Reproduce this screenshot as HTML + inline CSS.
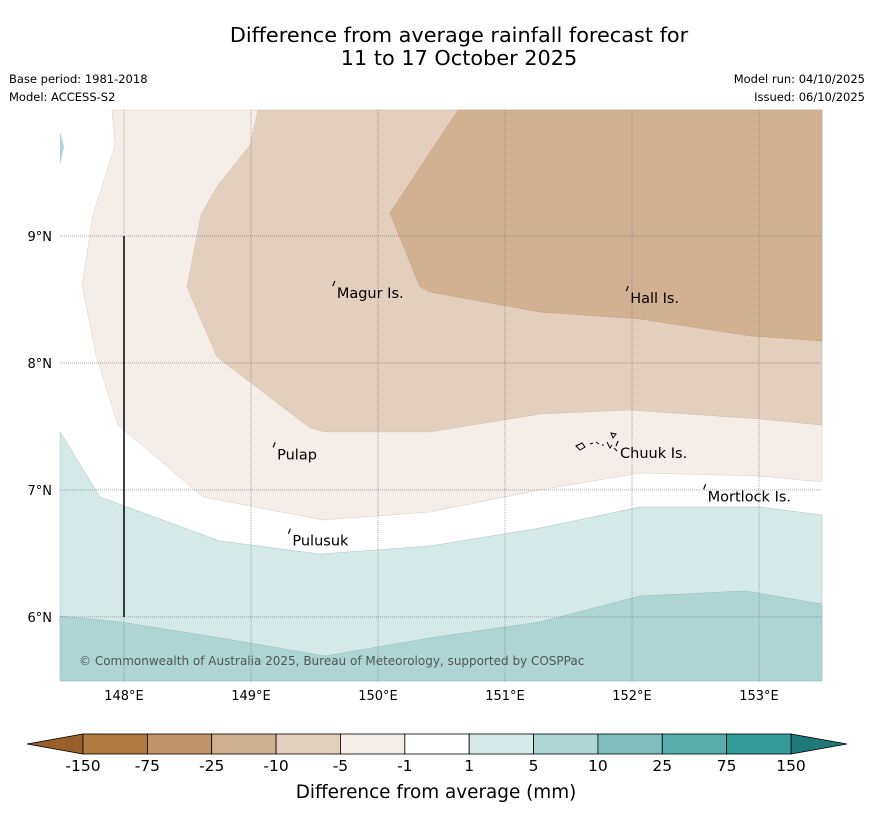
<!DOCTYPE html>
<html><head><meta charset="utf-8"><style>
body{margin:0;background:#fff;font-family:"DejaVu Sans","Liberation Sans",sans-serif}
svg{display:block}
</style></head><body>
<svg id="c" width="873" height="816" xmlns="http://www.w3.org/2000/svg" font-family="DejaVu Sans, Liberation Sans, sans-serif">
<text x="459" y="42" text-anchor="middle" font-size="20.8">Difference from average rainfall forecast for</text>
<text x="459" y="65" text-anchor="middle" font-size="20.8">11 to 17 October 2025</text>
<text x="9" y="83" font-size="11.5">Base period: 1981-2018</text>
<text x="9" y="101" font-size="11.5">Model: ACCESS-S2</text>
<text x="865" y="83" font-size="11.5" text-anchor="end">Model run: 04/10/2025</text>
<text x="865" y="101" font-size="11.5" text-anchor="end">Issued: 06/10/2025</text>
<g id="map"></g>
<g id="cb"></g>
<text x="436" y="798" text-anchor="middle" font-size="18.4">Difference from average (mm)</text>
</svg>
<script>
const lonTicks=[148,149,150,151,152,153];
const latTicks=[6,7,8,9];
// contour boundaries (lon, lat)
const c1Lon=[147.905,147.929,147.756,147.669,147.779,147.953,148.622,149.567,150.409,151.276,152.063,153.008,153.496];
const c1Lat=[9.992,9.716,9.165,8.614,8.063,7.512,6.945,6.764,6.827,7.000,7.134,7.110,7.063];
const c2Lon=[149.055,148.992,148.740,148.606,148.496,148.732,149.465,149.583,150.409,151.276,151.984,153.008,153.496];
const c2Lat=[9.992,9.716,9.401,9.165,8.598,8.047,7.488,7.457,7.457,7.598,7.630,7.559,7.512];
const c3Lon=[150.630,150.094,150.331,150.409,151.276,152.063,152.929,153.496];
const c3Lat=[9.992,9.181,8.598,8.559,8.401,8.346,8.213,8.173];
const c4Lon=[147.496,147.811,148.756,149.543,150.409,151.276,152.063,153.008,153.496];
const c4Lat=[7.457,6.945,6.598,6.496,6.559,6.701,6.866,6.866,6.803];
const c5Lon=[147.496,147.969,148.756,149.583,150.409,151.276,152.063,152.890,153.496];
const c5Lat=[6.008,5.961,5.835,5.693,5.835,5.961,6.165,6.205,6.102];
const places=["Magur Is.","Hall Is.","Pulap","Chuuk Is.","Mortlock Is.","Pulusuk"];
const placeLon=[149.66,151.97,149.19,151.89,152.58,149.31];
const placeLat=[8.59,8.55,7.32,7.33,6.99,6.64];
const NS="http://www.w3.org/2000/svg";
const cbLabels=["-150","-75","-25","-10","-5","-1","1","5","10","25","75","150"];
const cbColors=["#b07a3f","#c19368","#d2b191","#e2cfbe","#f4ede8","#ffffff","#d5e9e8","#acd5d4","#81bfbe","#58aca9","#339b98"];
const X0=60,X1=822,Y0=110,Y1=681,LON0=147.496,LAT1=9.992,K=127;
const xs=l=>X0+(l-LON0)*K, ys=l=>Y0+(LAT1-l)*K;
const map=document.getElementById('map'), cb=document.getElementById('cb');
function mk(t,a,p){const e=document.createElementNS(NS,t);for(const k in a)e.setAttribute(k,a[k]);(p||map).appendChild(e);return e;}
function pts(lo,la){return lo.map((v,i)=>xs(v).toFixed(1)+','+ys(la[i]).toFixed(1));}
const R=X1,T=Y0,B=Y1;
let e;
e=mk('polygon',{points:pts(c1Lon,c1Lat).concat([R+','+T]).join(' '),fill:'#f4ede8',stroke:'#cfc6bf','stroke-width':0.4});

e=mk('polygon',{points:pts(c2Lon,c2Lat).concat([R+','+T]).join(' '),fill:'#e2cfbe',stroke:'#c8b6a6','stroke-width':0.4});

e=mk('polygon',{points:pts(c3Lon,c3Lat).concat([R+','+T]).join(' '),fill:'#d2b191',stroke:'#b89a7d','stroke-width':0.4});

e=mk('polygon',{points:pts(c4Lon,c4Lat).concat([R+','+B,X0+','+B]).join(' '),fill:'#d5e9e8',stroke:'#9fb5b4','stroke-width':0.4});

e=mk('polygon',{points:pts(c5Lon,c5Lat).concat([R+','+B,X0+','+B]).join(' '),fill:'#acd5d4',stroke:'#8fb3b2','stroke-width':0.4});

e=mk('polygon',{points:'60,132 64,147 60,165',fill:'#acd5d4'});

lonTicks.forEach(l=>{const x=xs(l);
 e=mk('line',{x1:x,y1:Y0,x2:x,y2:Y1,stroke:'#777','stroke-width':0.6,'stroke-dasharray':'1,1'});
 
 e=mk('text',{x:x,y:700,'text-anchor':'middle','font-size':13});e.textContent=l+'°E';
 });
latTicks.forEach(l=>{const y=ys(l);
 e=mk('line',{x1:X0,y1:y,x2:X1,y2:y,stroke:'#777','stroke-width':0.6,'stroke-dasharray':'1,1'});
 
 e=mk('text',{x:52,y:y+5,'text-anchor':'end','font-size':13});e.textContent=l+'°N';
 });
e=mk('line',{x1:xs(148),y1:ys(9),x2:xs(148),y2:ys(6),stroke:'#000','stroke-width':1.5});

places.forEach((p,i)=>{const x=xs(placeLon[i]),y=ys(placeLat[i]);
 e=mk('path',{d:`M${x-2},${y-2} l2,-5`,stroke:'#000','stroke-width':1.2,fill:'none'});
 
 e=mk('text',{x:x+2,y:y+10,'font-size':14.5});e.textContent=p;
 });
e=mk('path',{d:'M576,446 l6,-3 l3,4 l-5,3 z M590,444 l3,-1 M596,442 l3,2 M602,445 l2,0 M607,442 l3,6 l2,-3 M611,433 l5,1 l-3,4 z M614,448 l3,3',stroke:'#000','stroke-width':1,fill:'none'});

e=mk('text',{x:79,y:665,'font-size':12,fill:'#555'});e.textContent='© Commonwealth of Australia 2025, Bureau of Meteorology, supported by COSPPac';

const CB0=83,CB1=791,CBT=734,CBB=754,w=(CB1-CB0)/cbColors.length;
e=mk('polygon',{points:`27,744 ${CB0},${CBT} ${CB0},${CBB}`,fill:'#9a5e2a',stroke:'#000','stroke-width':0.8},cb);

e=mk('polygon',{points:`847,744 ${CB1},${CBT} ${CB1},${CBB}`,fill:'#1f7a77',stroke:'#000','stroke-width':0.8},cb);

cbColors.forEach((c,i)=>{e=mk('rect',{x:CB0+i*w,y:CBT,width:w,height:CBB-CBT,fill:c,stroke:'#000','stroke-width':0.8},cb);
 });
cbLabels.forEach((t,i)=>{e=mk('text',{x:CB0+i*w,y:771,'text-anchor':'middle','font-size':15.5},cb);e.textContent=t;
 });
</script>
</body></html>
